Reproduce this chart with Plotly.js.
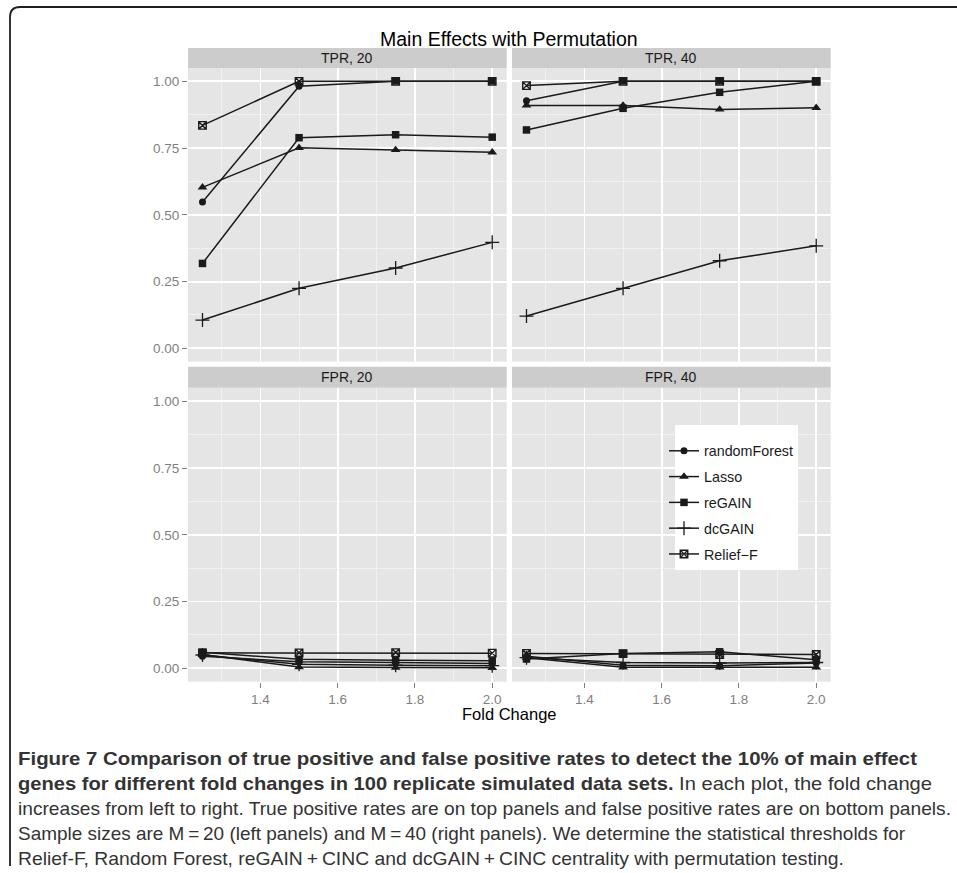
<!DOCTYPE html>
<html>
<head>
<meta charset="utf-8">
<script src="https://cdn.plot.ly/plotly-3.0.1.min.js"></script>
<style>html,body{margin:0;padding:0;background:#fff;}#chart{width:957px;height:873px;}</style>
</head>
<body>
<div id="chart"></div>
<script>
// ---------- data ----------
const foldChange = [1.25, 1.5, 1.75, 2.0];
const methodNames = ['randomForest', 'Lasso', 'reGAIN', 'dcGAIN', 'Relief\u2212F'];
const panelTitles = ['TPR, 20', 'TPR, 40', 'FPR, 20', 'FPR, 40'];

// TPR, M = 20
const tpr20RandomForest = [0.548, 0.982, 1.000, 1.000];
const tpr20Lasso        = [0.603, 0.751, 0.743, 0.734];
const tpr20ReGAIN       = [0.318, 0.789, 0.800, 0.791];
const tpr20DcGAIN       = [0.106, 0.225, 0.301, 0.397];
const tpr20ReliefF      = [0.835, 1.000, 1.000, 1.000];
// TPR, M = 40
const tpr40RandomForest = [0.927, 1.000, 1.000, 1.000];
const tpr40Lasso        = [0.910, 0.910, 0.895, 0.901];
const tpr40ReGAIN       = [0.818, 0.899, 0.959, 1.000];
const tpr40DcGAIN       = [0.121, 0.225, 0.328, 0.384];
const tpr40ReliefF      = [0.984, 1.000, 1.000, 1.000];
// FPR, M = 20
const fpr20RandomForest = [0.045, 0.025, 0.022, 0.018];
const fpr20Lasso        = [0.052, 0.005, 0.003, 0.002];
const fpr20ReGAIN       = [0.060, 0.034, 0.030, 0.028];
const fpr20DcGAIN       = [0.050, 0.015, 0.012, 0.010];
const fpr20ReliefF      = [0.058, 0.058, 0.059, 0.057];
// FPR, M = 40
const fpr40RandomForest = [0.045, 0.012, 0.010, 0.020];
const fpr40Lasso        = [0.040, 0.004, 0.004, 0.004];
const fpr40ReGAIN       = [0.035, 0.056, 0.062, 0.032];
const fpr40DcGAIN       = [0.040, 0.022, 0.020, 0.022];
const fpr40ReliefF      = [0.056, 0.055, 0.052, 0.052];

const xTickVals = [1.4, 1.6, 1.8, 2.0];
const xTickText = ['1.4', '1.6', '1.8', '2.0'];
const xMinorVals = [1.3, 1.5, 1.7, 1.9];
const yTickVals = [0, 0.25, 0.5, 0.75, 1.0];
const yTickText = ['0.00', '0.25', '0.50', '0.75', '1.00'];
const yMinorVals = [0.125, 0.375, 0.625, 0.875];

const captionLines = [
  '<b>Figure 7 Comparison of true positive and false positive rates to detect the 10% of main effect</b>',
  '<b>genes for different fold changes in 100 replicate simulated data sets.</b> In each plot, the fold change',
  'increases from left to right. True positive rates are on top panels and false positive rates are on bottom panels.',
  'Sample sizes are M\u2009=\u200920 (left panels) and M\u2009=\u200940 (right panels). We determine the statistical thresholds for',
  'Relief-F, Random Forest, reGAIN\u2009+\u2009CINC and dcGAIN\u2009+\u2009CINC centrality with permutation testing.'
];

// ---------- layout helpers ----------
const W = 957, H = 873;
const px = v => v / W;
const py = v => 1 - v / H;

const panels = [
  [tpr20RandomForest, tpr20Lasso, tpr20ReGAIN, tpr20DcGAIN, tpr20ReliefF],
  [tpr40RandomForest, tpr40Lasso, tpr40ReGAIN, tpr40DcGAIN, tpr40ReliefF],
  [fpr20RandomForest, fpr20Lasso, fpr20ReGAIN, fpr20DcGAIN, fpr20ReliefF],
  [fpr40RandomForest, fpr40Lasso, fpr40ReGAIN, fpr40DcGAIN, fpr40ReliefF]
];

const ink = '#1a1a1a';
const markerStyles = [
  {symbol: 'circle', size: 7, color: ink, line: {width: 0}},
  {symbol: 'triangle-up', size: 8.5, color: ink, line: {width: 0}},
  {symbol: 'square', size: 7.5, color: ink, line: {width: 0}},
  {symbol: 'cross-thin-open', size: 10, color: ink, line: {width: 1.3, color: ink}},
  {symbol: 'square-x-open', size: 7.5, color: ink, line: {width: 1.4, color: ink}}
];

const colX = [[188, 506.7], [512, 830.7]];
const rowY = [[68, 361.7], [388, 681.7]];

const traces = [];
panels.forEach((series, p) => {
  const ax = p === 0 ? '' : String(p + 1);
  series.forEach((vals, m) => {
    traces.push({
      type: 'scatter',
      mode: 'lines+markers',
      x: foldChange,
      y: vals,
      xaxis: 'x' + ax,
      yaxis: 'y' + ax,
      name: methodNames[m],
      legendgroup: methodNames[m],
      showlegend: p === 0,
      line: {color: ink, width: 1.5},
      marker: markerStyles[m],
      cliponaxis: false,
      hoverinfo: 'skip'
    });
  });
});

const tickFont = {family: 'Liberation Sans, Arial, sans-serif', size: 13.5, color: '#7f7f7f'};

function xAxis(col, row) {
  const bottom = row === 1;
  return {
    domain: [px(colX[col][0]), px(colX[col][1])],
    anchor: 'y' + (row * 2 + col === 0 ? '' : String(row * 2 + col + 1)),
    range: [1.2125, 2.0375],
    tickmode: 'array', tickvals: xTickVals, ticktext: xTickText,
    showticklabels: bottom,
    ticks: bottom ? 'outside' : '', ticklen: 5, tickwidth: 1, tickcolor: '#7f7f7f',
    tickfont: tickFont,
    showgrid: true, gridcolor: '#ffffff', gridwidth: 1.8,
    minor: {tickvals: xMinorVals, showgrid: true, gridcolor: '#f2f2f2', gridwidth: 0.9, ticks: ''},
    zeroline: false, showline: false, fixedrange: true
  };
}
function yAxis(col, row) {
  const left = col === 0;
  return {
    domain: [py(rowY[row][1]), py(rowY[row][0])],
    anchor: 'x' + (row * 2 + col === 0 ? '' : String(row * 2 + col + 1)),
    range: [-0.05, 1.05],
    tickmode: 'array', tickvals: yTickVals, ticktext: yTickText,
    showticklabels: left,
    ticks: left ? 'outside' : '', ticklen: 5, tickwidth: 1, tickcolor: '#7f7f7f',
    tickfont: tickFont,
    showgrid: true, gridcolor: '#ffffff', gridwidth: 1.8,
    minor: {tickvals: yMinorVals, showgrid: true, gridcolor: '#f2f2f2', gridwidth: 0.9, ticks: ''},
    zeroline: false, showline: false, fixedrange: true
  };
}

const shapes = [];
const annotations = [];
const stripY = [[48, 68], [366.7, 387.7]];
panelTitles.forEach((t, p) => {
  const col = p % 2, row = Math.floor(p / 2);
  shapes.push({
    type: 'rect', xref: 'paper', yref: 'paper',
    x0: px(colX[col][0]), x1: px(colX[col][1]),
    y0: py(stripY[row][1]), y1: py(stripY[row][0]),
    fillcolor: '#cccccc', line: {width: 0}, layer: 'below'
  });
  annotations.push({
    xref: 'paper', yref: 'paper', showarrow: false,
    x: px((colX[col][0] + colX[col][1]) / 2),
    y: py((stripY[row][0] + stripY[row][1]) / 2),
    xanchor: 'center', yanchor: 'middle',
    text: t,
    font: {family: 'Liberation Sans, Arial, sans-serif', size: 14, color: '#1a1a1a'}
  });
});

// legend box (white panel behind the legend entries)
shapes.push({
  type: 'rect', xref: 'paper', yref: 'paper',
  x0: px(675), x1: px(798), y0: py(570), y1: py(425),
  fillcolor: '#ffffff', line: {width: 0}, layer: 'above'
});

// outer frame (left + top edges with rounded corner)
const f = (x, y) => px(x).toFixed(5) + ',' + py(y).toFixed(5);
shapes.push({
  type: 'path', xref: 'paper', yref: 'paper',
  path: 'M ' + f(10, 866) + ' L ' + f(10, 17) + ' Q ' + f(10, 7) + ' ' + f(20, 7) + ' L ' + f(960, 7),
  line: {color: '#231f20', width: 1.8}
});

// title & axis title
annotations.push({
  xref: 'paper', yref: 'paper', showarrow: false,
  x: px(509), y: py(39), xanchor: 'center', yanchor: 'middle',
  text: 'Main Effects with Permutation',
  font: {family: 'Liberation Sans, Arial, sans-serif', size: 19.5, color: '#000000'}
});
annotations.push({
  xref: 'paper', yref: 'paper', showarrow: false,
  x: px(509), y: py(714), xanchor: 'center', yanchor: 'middle',
  text: 'Fold Change',
  font: {family: 'Liberation Sans, Arial, sans-serif', size: 16.5, color: '#000000'}
});

// caption, one annotation per line
const capY = [758, 783, 808, 833, 858];
captionLines.forEach((line, i) => {
  annotations.push({
    xref: 'paper', yref: 'paper', showarrow: false,
    x: px(16), y: py(capY[i]), xanchor: 'left', yanchor: 'middle', align: 'left',
    text: line,
    font: {family: 'Liberation Sans, Arial, sans-serif', size: 19, color: '#333333'}
  });
});
const capWidths = [899, 914, 933, 887, 826];

const layout = {
  width: W, height: H,
  margin: {l: 0, r: 0, t: 0, b: 0},
  paper_bgcolor: '#ffffff',
  plot_bgcolor: '#e5e5e5',
  showlegend: true,
  legend: {
    x: px(664), y: py(435), xanchor: 'left', yanchor: 'top',
    bgcolor: 'rgba(0,0,0,0)', borderwidth: 0,
    font: {family: 'Liberation Sans, Arial, sans-serif', size: 14.3, color: '#1a1a1a'},
    traceorder: 'grouped', tracegroupgap: 4.2, itemwidth: 30
  },
  xaxis: xAxis(0, 0), yaxis: yAxis(0, 0),
  xaxis2: xAxis(1, 0), yaxis2: yAxis(1, 0),
  xaxis3: xAxis(0, 1), yaxis3: yAxis(0, 1),
  xaxis4: xAxis(1, 1), yaxis4: yAxis(1, 1),
  shapes: shapes,
  annotations: annotations
};

Plotly.newPlot('chart', traces, layout, {staticPlot: true, displayModeBar: false}).then(gd => {
  // fit each caption line to the width measured on the reference (condensed typeface look)
  const texts = gd.querySelectorAll('.annotation-text');
  texts.forEach(t => {
    const content = t.textContent;
    captionLines.forEach((line, i) => {
      const plain = line.replace(/<[^>]+>/g, '');
      if (content === plain) {
        t.setAttribute('textLength', capWidths[i]);
        t.setAttribute('lengthAdjust', 'spacingAndGlyphs');
      }
    });
  });
});
</script>
</body>
</html>
